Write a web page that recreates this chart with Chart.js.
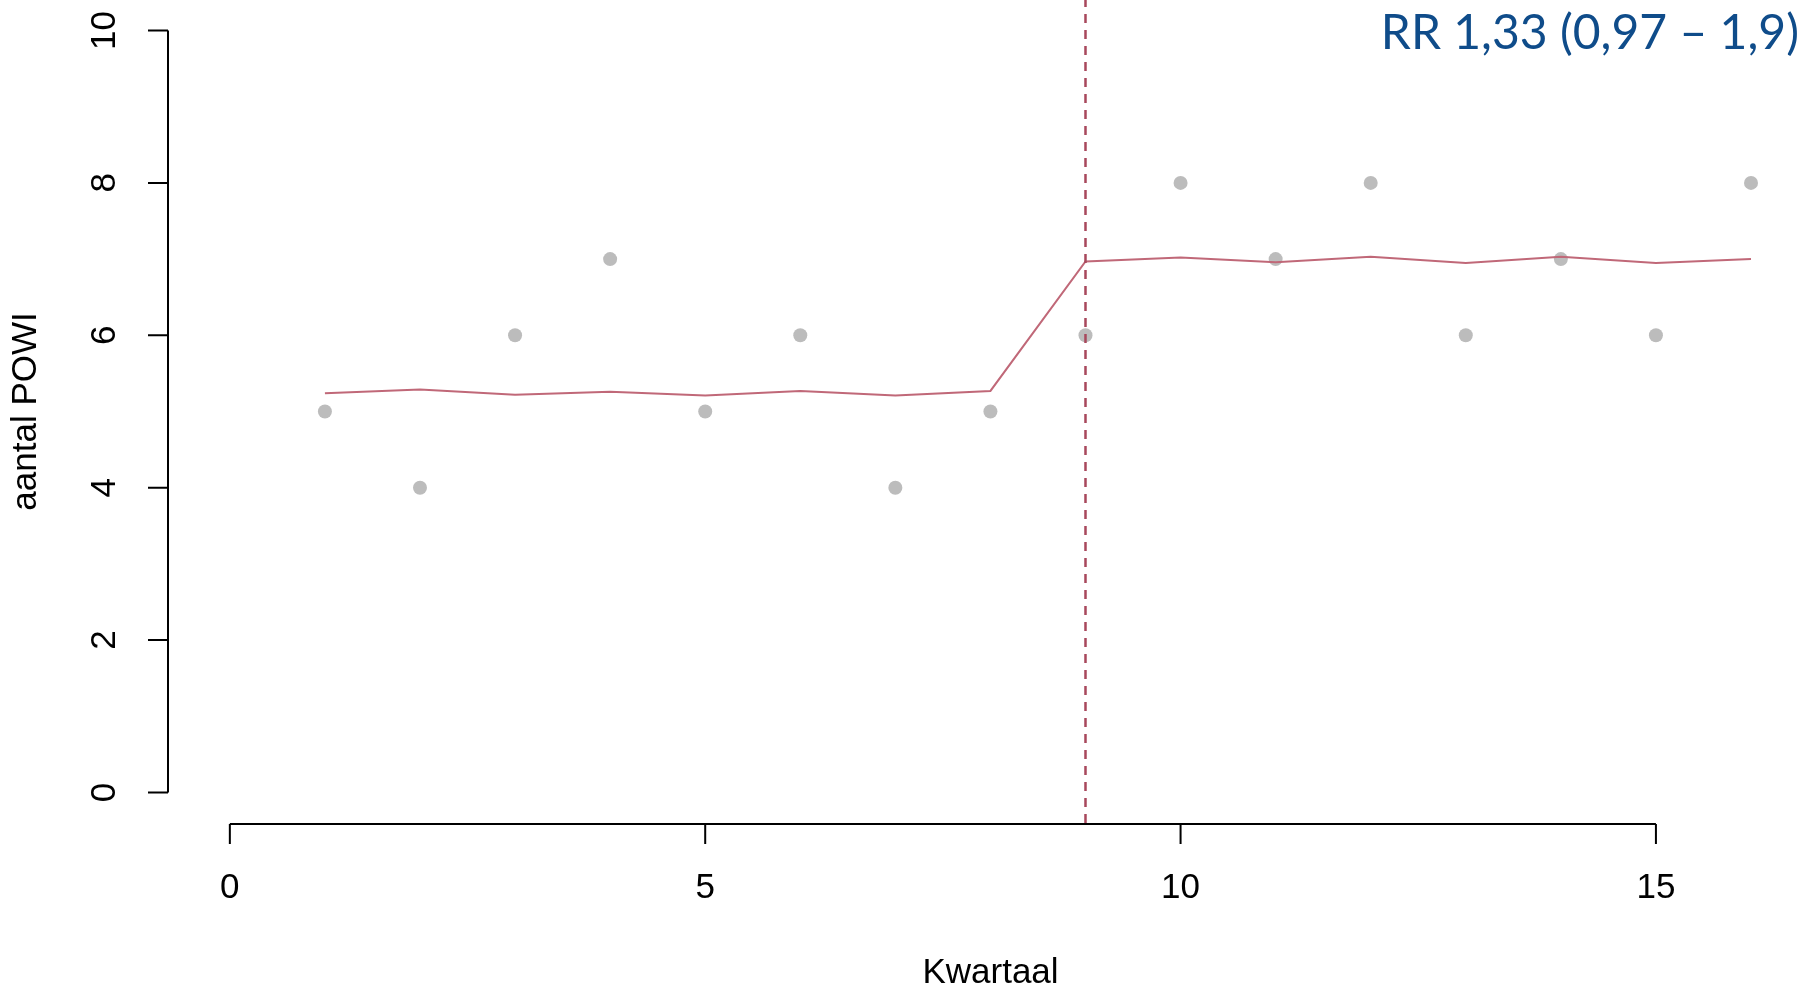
<!DOCTYPE html>
<html>
<head>
<meta charset="utf-8">
<script src="https://cdn.jsdelivr.net/npm/chart.js@4/dist/chart.umd.min.js"></script>
<style>
  html, body { margin: 0; padding: 0; background: #fff; }
  #wrap { position: relative; width: 1805px; height: 992px; }
  #title {
    position: absolute; right: 6px; top: 2px;
    font-family: Lato, "Open Sans", sans-serif; font-size: 48px;
    color: #0f4c8a; white-space: nowrap;
  }
</style>
</head>
<body>
<div id="wrap">
  <canvas id="my-chart" width="1805" height="992"></canvas>
  <div id="title">RR 1,33 (0,97 – 1,9)</div>
</div>
<script>
// kwartalen en waarden
const quarters = [1, 2, 3, 4, 5, 6, 7, 8, 9, 10, 11, 12, 13, 14, 15, 16];
const observed = [5, 4, 6, 7, 5, 6, 4, 5, 6, 8, 7, 8, 6, 7, 6, 8];
const fitted = [5.24, 5.29, 5.22, 5.26, 5.21, 5.27, 5.21, 5.27, 6.97, 7.02, 6.96, 7.03, 6.95, 7.03, 6.95, 7.00];
const interventionAt = 9;
const xTicks = [0, 5, 10, 15];
const yTicks = [0, 2, 4, 6, 8, 10];
const xTitle = 'Kwartaal';
const yTitle = 'aantal POWI';

const FONT = '35px "Liberation Sans", Arial, sans-serif';

// R-achtige assen: lijn alleen van eerste tot laatste tick
const rAxes = {
    id: 'rAxes',
    afterDraw(chart) {
        const ctx = chart.ctx;
        const xs = chart.scales.x, ys = chart.scales.y;
        const area = chart.chartArea;
        ctx.save();
        ctx.strokeStyle = '#000';
        ctx.fillStyle = '#000';
        ctx.lineWidth = 2;
        ctx.font = FONT;

        // x-as
        const xAxisY = area.bottom + 1;
        ctx.beginPath();
        ctx.moveTo(xs.getPixelForValue(xTicks[0]), xAxisY);
        ctx.lineTo(xs.getPixelForValue(xTicks[xTicks.length - 1]), xAxisY);
        xTicks.forEach(t => {
            const px = xs.getPixelForValue(t);
            ctx.moveTo(px, xAxisY);
            ctx.lineTo(px, xAxisY + 20);
        });
        ctx.stroke();
        ctx.textAlign = 'center';
        ctx.textBaseline = 'middle';
        xTicks.forEach(t => ctx.fillText(String(t), xs.getPixelForValue(t), 888));
        ctx.fillText(xTitle, (area.left + 1812) / 2, 973);

        // y-as
        const yAxisX = area.left - 1;
        ctx.beginPath();
        ctx.moveTo(yAxisX, ys.getPixelForValue(yTicks[0]));
        ctx.lineTo(yAxisX, ys.getPixelForValue(yTicks[yTicks.length - 1]));
        yTicks.forEach(t => {
            const py = ys.getPixelForValue(t);
            ctx.moveTo(yAxisX, py);
            ctx.lineTo(yAxisX - 20, py);
        });
        ctx.stroke();
        yTicks.forEach(t => {
            ctx.save();
            ctx.translate(105, ys.getPixelForValue(t));
            ctx.rotate(-Math.PI / 2);
            ctx.fillText(String(t), 0, 0);
            ctx.restore();
        });
        ctx.save();
        ctx.translate(26, (area.top + area.bottom) / 2);
        ctx.rotate(-Math.PI / 2);
        ctx.fillText(yTitle, 0, 0);
        ctx.restore();

        ctx.restore();
    }
};

const ctx = document.getElementById('my-chart').getContext('2d');
const chart = new Chart(ctx, {
    type: 'scatter',
    data: {
        datasets: [{
            type: 'line',
            label: 'interventie',
            data: [{ x: interventionAt, y: -0.4 }, { x: interventionAt, y: 10.4 }],
            borderColor: '#a8485c',
            borderWidth: 2.5,
            borderDash: [9, 7],
            pointRadius: 0,
            order: 0
        }, {
            type: 'line',
            label: 'model',
            data: quarters.map((q, i) => ({ x: q, y: fitted[i] })),
            borderColor: '#c06878',
            borderWidth: 2,
            pointRadius: 0,
            tension: 0,
            order: 1
        }, {
            label: 'aantal POWI',
            data: quarters.map((q, i) => ({ x: q, y: observed[i] })),
            backgroundColor: '#bcbcbc',
            borderColor: '#bcbcbc',
            pointRadius: 7,
            borderWidth: 0,
            order: 2
        }]
    },
    options: {
        responsive: false,
        animation: false,
        devicePixelRatio: 1,
        layout: { autoPadding: false, padding: { left: 169, right: 0, top: 0, bottom: 169 } },
        plugins: { legend: { display: false }, tooltip: { enabled: false } },
        scales: {
            x: { type: 'linear', min: -0.64, max: 16.568, display: false },
            y: { type: 'linear', min: -0.4, max: 10.4, display: false }
        }
    },
    plugins: [rAxes]
});
</script>
</body>
</html>
